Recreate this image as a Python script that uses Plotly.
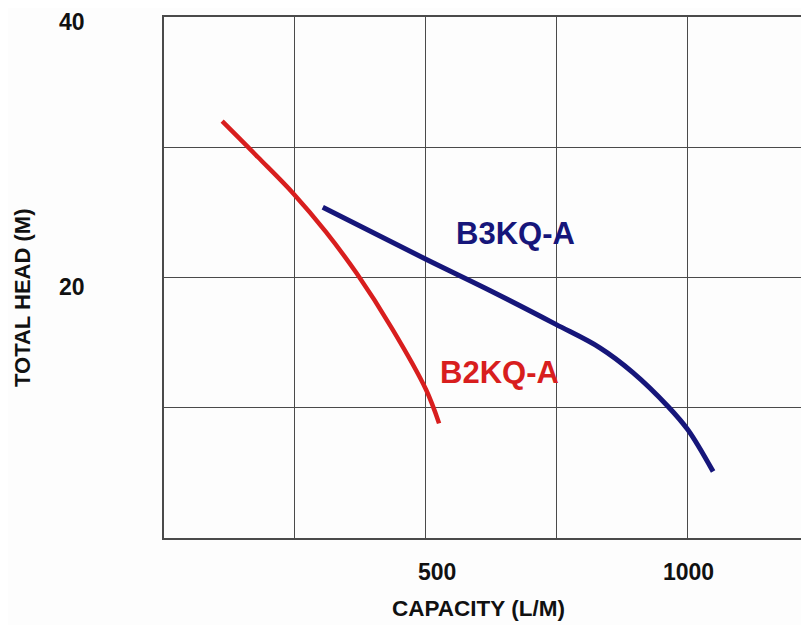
import plotly.graph_objects as go

# Data
b2_capacity = [111, 179, 248, 309, 368, 435, 500, 525]
b2_head = [32.0, 29.25, 26.4, 23.5, 20.3, 16.1, 11.4, 8.8]

b3_capacity = [303, 500, 622, 748, 832, 895, 962, 1000, 1048]
b3_head = [25.4, 21.4, 19.0, 16.4, 14.6, 12.7, 10.1, 8.3, 5.1]

x_tick_vals = [500, 1000]
x_tick_text = ["500", "1000"]
y_tick_vals = [40, 20]
y_tick_text = ["40", "20"]

series_names = ["B2KQ-A", "B3KQ-A"]
label_pos = {"B2KQ-A": (641, 12.7), "B3KQ-A": (670, 23.4)}

RED = "#d81e1e"
BLUE = "#16167a"
FONT = "Liberation Sans, Arial, sans-serif"

fig = go.Figure()
fig.add_trace(go.Scatter(x=b2_capacity, y=b2_head, mode="lines",
                         line=dict(color=RED, width=4.5, shape="spline", smoothing=1.0),
                         name=series_names[0]))
fig.add_trace(go.Scatter(x=b3_capacity, y=b3_head, mode="lines",
                         line=dict(color=BLUE, width=5, shape="spline", smoothing=1.0),
                         name=series_names[1]))

annotations = []
for v, t in zip(x_tick_vals, x_tick_text):
    annotations.append(dict(x=v, y=0, xref="x", yref="paper", text="<b>%s</b>" % t,
                            showarrow=False, xanchor="center", yanchor="middle",
                            yshift=-34, xshift=11 if v == 500 else 1,
                            font=dict(family=FONT, size=23, color="#111")))
y_anchor = {40: ("top", 9), 20: ("middle", -9)}
for v, t in zip(y_tick_vals, y_tick_text):
    anc, sh = y_anchor[v]
    annotations.append(dict(x=0, y=v, xref="paper", yref="y", text="<b>%s</b>" % t,
                            showarrow=False, xanchor="center", yanchor=anc,
                            xshift=-92, yshift=sh, borderpad=0,
                            font=dict(family=FONT, size=23, color="#111")))

annotations.append(dict(x=0.488, y=0, xref="paper", yref="paper",
                        text="<b>CAPACITY (L/M)</b>", showarrow=False,
                        xanchor="center", yanchor="middle", yshift=-70,
                        font=dict(family=FONT, size=22.5, color="#111")))
annotations.append(dict(x=0, y=0.4607, xref="paper", yref="paper",
                        text="<b>TOTAL HEAD (M)</b>", showarrow=False,
                        textangle=-90, xanchor="center", yanchor="middle",
                        xshift=-141,
                        font=dict(family=FONT, size=22, color="#111")))

colors = {"B2KQ-A": RED, "B3KQ-A": BLUE}
for name in series_names:
    lx, ly = label_pos[name]
    annotations.append(dict(x=lx, y=ly, xref="x", yref="y", text="<b>%s</b>" % name,
                            showarrow=False, xanchor="center", yanchor="middle",
                            font=dict(family=FONT, size=31, color=colors[name])))

fig.update_layout(
    width=801, height=617,
    margin=dict(l=156, r=0, t=9, b=87),
    paper_bgcolor="#fdfdfd", plot_bgcolor="#fdfdfd",
    showlegend=False,
    annotations=annotations,
    xaxis=dict(range=[0, 1231], dtick=250, tick0=0, showticklabels=False,
               showgrid=True, gridcolor="#4a4a4a", gridwidth=1.3,
               showline=True, linecolor="#4a4a4a", linewidth=1.6, mirror=True,
               zeroline=False, ticks=""),
    yaxis=dict(range=[0, 40], dtick=10, tick0=0, showticklabels=False,
               showgrid=True, gridcolor="#4a4a4a", gridwidth=1.3,
               showline=True, linecolor="#4a4a4a", linewidth=1.6,
               zeroline=False, ticks=""),
)

fig.write_html("out.html")
